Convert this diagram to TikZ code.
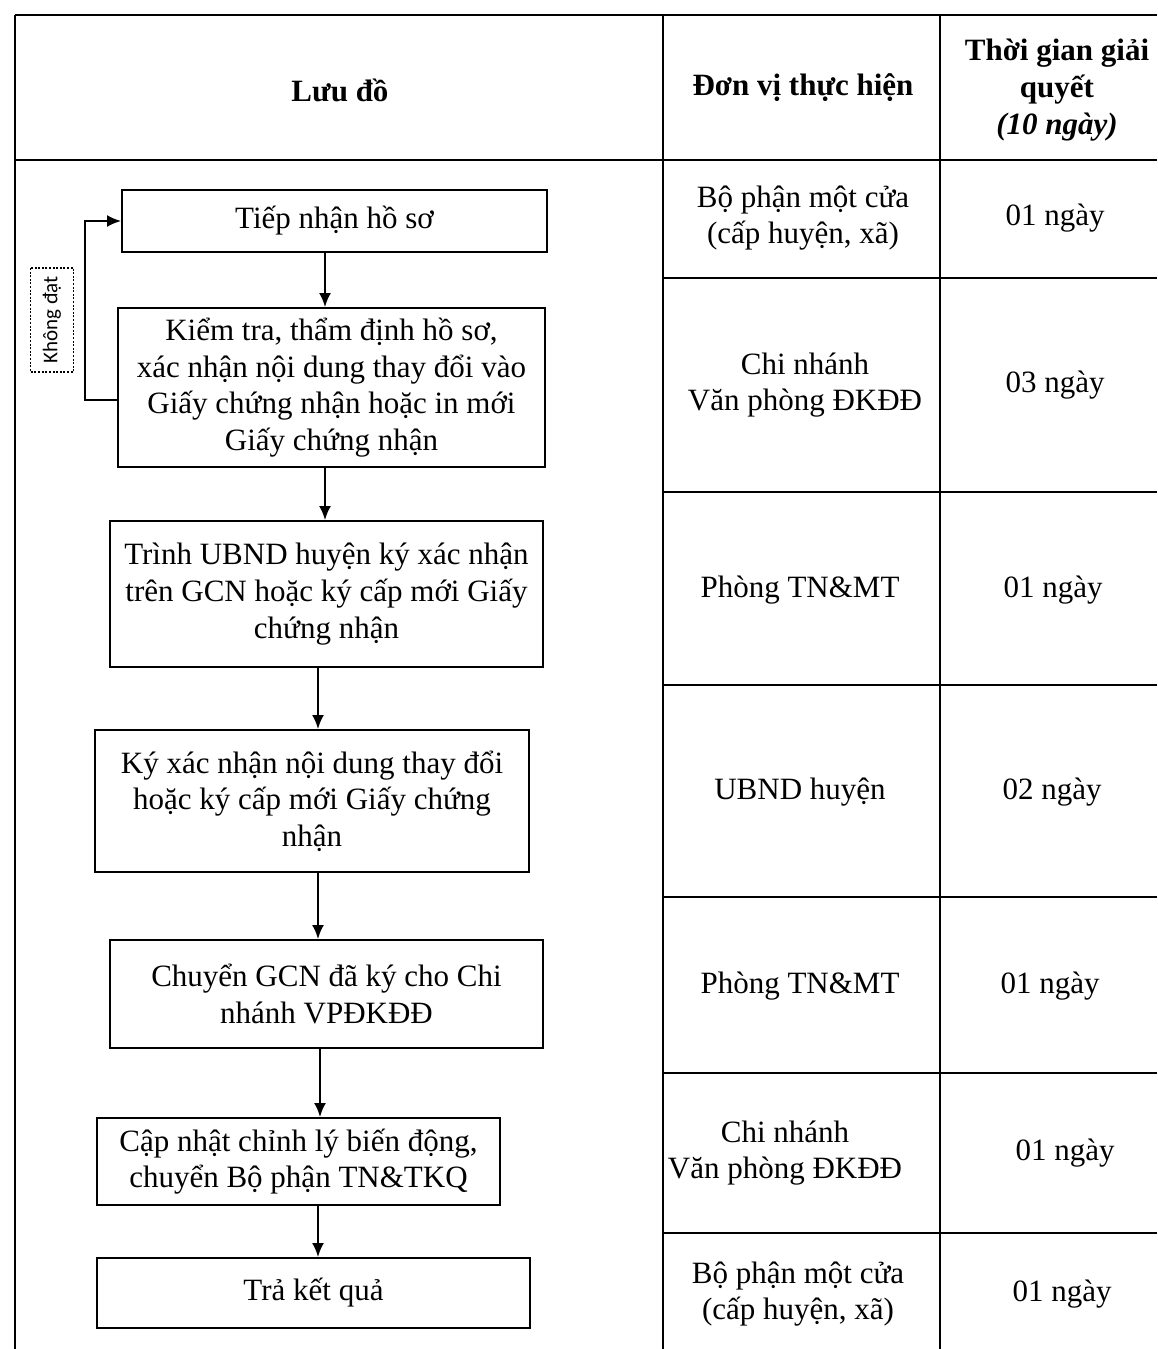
\documentclass[tikz,border=0pt]{standalone}
\usepackage{fontspec}
\setmainfont{Liberation Serif}
\newfontfamily\calib{Carlito}
\usetikzlibrary{arrows.meta,calc}
\begin{document}
\begin{tikzpicture}[x=0.5pt,y=-0.5pt,
  every node/.style={font=\fontsize{15.5}{18.3}\selectfont},
  flowbox/.style={draw, line width=1pt, inner sep=0pt, align=center},
  arr/.style={line width=1pt, -{Latex[length=7pt,width=6pt]}},
  grid/.style={line width=1pt},
  cell/.style={align=center, inner sep=0pt},
  hcell/.style={align=center, inner sep=0pt, font=\fontsize{15.5}{18.3}\selectfont\bfseries}
]
\useasboundingbox (0,0) rectangle (1157,1349);

% table grid
\draw[grid] (15,15) -- (1157,15);
\draw[grid] (15,160) -- (1157,160);
\draw[grid] (15,15) -- (15,1349);
\draw[grid] (663,15) -- (663,1349);
\draw[grid] (940,15) -- (940,1349);
\foreach \yy in {278,492,685,897,1073,1233}
  \draw[grid] (663,\yy) -- (1157,\yy);

% header
\node[hcell] (h1) at (340,90) {Lưu đồ};
\node[hcell] (h2) at (803,88) {Đơn vị thực hiện};
\node[hcell] (h3) at (1057,90) {Thời gian giải\\quyết\\\textit{(10 ngày)}};

% flow boxes
\node[flowbox, minimum width=212.5pt, minimum height=31pt] (b1) at (334.5,221) {Tiếp nhận hồ sơ};
\node[flowbox, minimum width=213.5pt, minimum height=79.5pt] (b2) at (331.5,387.5) {Kiểm tra, thẩm định hồ sơ,\\xác nhận nội dung thay đổi vào\\Giấy chứng nhận hoặc in mới\\Giấy chứng nhận};
\node[flowbox, minimum width=216.5pt, minimum height=73pt] (b3) at (326.5,594) {Trình UBND huyện ký xác nhận\\trên GCN hoặc ký cấp mới Giấy\\chứng nhận};
\node[flowbox, minimum width=217pt, minimum height=71pt] (b4) at (312,801) {Ký xác nhận nội dung thay đổi\\hoặc ký cấp mới Giấy chứng\\nhận};
\node[flowbox, minimum width=216.5pt, minimum height=54pt] (b5) at (326.5,994) {Chuyển GCN đã ký cho Chi\\nhánh VPĐKĐĐ};
\node[flowbox, minimum width=201.5pt, minimum height=43.5pt] (b6) at (298.5,1161.5) {Cập nhật chỉnh lý biến động,\\chuyển Bộ phận TN\&TKQ};
\node[flowbox, minimum width=216.5pt, minimum height=35pt] (b7) at (313.5,1293) {Trả kết quả};

% arrows
\draw[arr] (b1.south -| 325,0) -- (b2.north -| 325,0);
\draw[arr] (b2.south -| 325,0) -- (b3.north -| 325,0);
\draw[arr] (b3.south -| 318,0) -- (b4.north -| 318,0);
\draw[arr] (b4.south -| 318,0) -- (b5.north -| 318,0);
\draw[arr] (b5.south -| 320,0) -- (b6.north -| 320,0);
\draw[arr] (b6.south -| 318,0) -- (b7.north -| 318,0);

% feedback loop
\coordinate (lp) at (85,0);
\draw[arr] ($(b2.west)+(0,12.5)$) -| (lp |- b1.west) -- (b1.west);
\node[draw, line width=0.6pt, dash pattern=on 1pt off 0.8pt, rotate=90,
      font=\calib\fontsize{10.5}{12}\selectfont, inner sep=1pt,
      minimum width=52pt, minimum height=21.5pt] (kd) at (52,320) {Không đạt};

% unit column
\node[cell] (u1) at (803,218) {Bộ phận một cửa\\(cấp huyện, xã)};
\node[cell] (u2) at (805,385) {Chi nhánh\\Văn phòng ĐKĐĐ};
\node[cell] (u3) at (800,590) {Phòng TN\&MT};
\node[cell] (u4) at (800,792) {UBND huyện};
\node[cell] (u5) at (800,986) {Phòng TN\&MT};
\node[cell] (u6) at (785,1153) {Chi nhánh\\Văn phòng ĐKĐĐ};
\node[cell] (u7) at (798,1294) {Bộ phận một cửa\\(cấp huyện, xã)};

% time column
\node[cell] (t1) at (1055,218) {01 ngày};
\node[cell] (t2) at (1055,385) {03 ngày};
\node[cell] (t3) at (1053,590) {01 ngày};
\node[cell] (t4) at (1052,792) {02 ngày};
\node[cell] (t5) at (1050,986) {01 ngày};
\node[cell] (t6) at (1065,1153) {01 ngày};
\node[cell] (t7) at (1062,1294) {01 ngày};
\end{tikzpicture}
\end{document}
